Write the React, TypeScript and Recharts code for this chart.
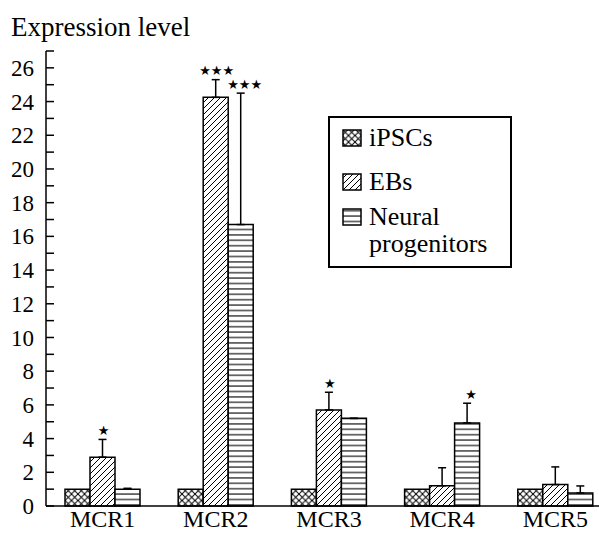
import React from "react";
import { BarChart, Bar, XAxis, YAxis, ErrorBar, LabelList, Legend } from "recharts";

const categories = ["MCR1", "MCR2", "MCR3", "MCR4", "MCR5"];
const ipscs = [1, 1, 1, 1, 1];
const ebs = [2.9, 24.25, 5.7, 1.2, 1.27];
const ebsErr = [1.05, 1.05, 1.05, 1.07, 1.05];
const neural = [1.0, 16.7, 5.2, 4.93, 0.77];
const neuralErr = [0.05, 7.8, 0, 1.17, 0.42];
const ebsStars = ["★", "★★★", "★", "", ""];
const neuralStars = ["", "★★★", "", "★", ""];
const yTicks = [0, 1, 2, 3, 4, 5, 6, 7, 8, 9, 10, 11, 12, 13, 14, 15, 16, 17, 18, 19, 20, 21, 22, 23, 24, 25, 26, 27];

// no serif face in the sandbox, this falls back to whatever is there
const FONT = "Liberation Serif, Tinos, Times New Roman, DejaVu Serif, serif";

const data = categories.map((name, i) => ({
  name,
  ipscs: ipscs[i],
  ebs: ebs[i],
  ebsErr: [0, ebsErr[i]],
  ebsStar: ebsStars[i],
  neural: neural[i],
  neuralErr: [0, neuralErr[i]],
  neuralStar: neuralStars[i],
}));

const series = [
  { key: "ipscs", name: "iPSCs", fill: "url(#crossHatch)" },
  { key: "ebs", name: "EBs", fill: "url(#diagHatch)" },
  { key: "neural", name: "Neural progenitors", fill: "url(#horizHatch)" },
];

function YTick(props: any) {
  const { x, y, payload } = props;
  const v = payload.value;
  return (
    <g>
      <line x1={x} x2={x + 8} y1={y} y2={y} stroke="#000" strokeWidth={1.5} />
      {v % 2 === 0 && v <= 26 && (
        <text x={x - 12} y={y} dy="0.35em" textAnchor="end" style={{ fontFamily: FONT }} fontSize={23} fill="#000">
          {v}
        </text>
      )}
    </g>
  );
}

function starLabel(values: number[], errs: number[], shift: number) {
  return (props: any) => {
    const { x, y, width, height, value, index } = props;
    if (!value) return null;
    const perUnit = Number(height) / values[index];
    const capY = Number(y) - errs[index] * perUnit;
    return (
      <text
        x={Number(x) + Number(width) / 2 + shift}
        y={capY - 9}
        dominantBaseline="central"
        textAnchor="middle"
        style={{ fontFamily: "DejaVu Sans, sans-serif" }}
        fontSize={13}
        fill="#000"
      >
        {value}
      </text>
    );
  };
}

function Swatch({ fill }: { fill: string }) {
  return (
    <svg width={20} height={18} style={{ display: "block" }}>
      <rect x={1} y={1} width={18} height={16} fill={fill} stroke="#000" strokeWidth={1.5} />
    </svg>
  );
}

function LegendBox() {
  return (
    <div
      style={{
        border: "2px solid #000",
        width: 184,
        height: 152,
        boxSizing: "border-box",
        fontFamily: FONT,
        fontSize: 26,
        color: "#000",
        background: "#fff",
        position: "relative",
      }}
    >
      <div style={{ position: "absolute", left: 12, top: 6, display: "flex", alignItems: "center" }}>
        <Swatch fill={series[0].fill} />
        <span style={{ marginLeft: 7, lineHeight: "28px" }}>iPSCs</span>
      </div>
      <div style={{ position: "absolute", left: 12, top: 50, display: "flex", alignItems: "center" }}>
        <Swatch fill={series[1].fill} />
        <span style={{ marginLeft: 7, lineHeight: "28px" }}>EBs</span>
      </div>
      <div style={{ position: "absolute", left: 12, top: 85, display: "flex", alignItems: "flex-start" }}>
        <div style={{ marginTop: 5 }}>
          <Swatch fill={series[2].fill} />
        </div>
        <span style={{ marginLeft: 7, lineHeight: "27px" }}>
          Neural
          <br />
          progenitors
        </span>
      </div>
    </div>
  );
}

export default function App() {
  return (
    <div style={{ position: "fixed", left: 0, top: 0, width: 599, height: 535, overflow: "hidden", background: "#fff" }}>
      <svg width={0} height={0} style={{ position: "absolute" }}>
        <defs>
          <pattern id="crossHatch" patternUnits="userSpaceOnUse" width={6.5} height={6.5}>
            <rect width={6.5} height={6.5} fill="#fff" />
            <path d="M0,0 L6.5,6.5 M6.5,0 L0,6.5" stroke="#000" strokeWidth={1} />
          </pattern>
          <pattern id="diagHatch" patternUnits="userSpaceOnUse" width={6} height={6}>
            <rect width={6} height={6} fill="#fff" />
            <path d="M-1,1 L1,-1 M0,6 L6,0 M5,7 L7,5" stroke="#000" strokeWidth={1} />
          </pattern>
          <pattern id="horizHatch" patternUnits="userSpaceOnUse" width={6} height={5.4}>
            <rect width={6} height={5.4} fill="#fff" />
            <line x1={0} x2={6} y1={2.7} y2={2.7} stroke="#000" strokeWidth={1.1} />
          </pattern>
        </defs>
      </svg>
      <div style={{ position: "absolute", left: 11, top: 12, fontFamily: FONT, fontSize: 27, lineHeight: "30px", color: "#000" }}>
        Expression level
      </div>
      <BarChart
        width={620}
        height={535}
        data={data}
        margin={{ top: 51, right: 8, left: 0, bottom: 0 }}
        barSize={25}
        barGap={0}
      >
        <XAxis
          dataKey="name"
          tickLine={false}
          tickSize={0}
          tickMargin={4}
          height={29}
          axisLine={{ stroke: "#000", strokeWidth: 1.5 }}
          tick={{ fontSize: 24, fill: "#000", style: { fontFamily: FONT } }}
        />
        <YAxis
          width={46}
          domain={[0, 27]}
          ticks={yTicks}
          interval={0}
          tickLine={false}
          tickSize={0}
          tickMargin={0}
          axisLine={{ stroke: "#000", strokeWidth: 1.5 }}
          tick={<YTick />}
        />
        <Legend
          layout="vertical"
          align="center"
          verticalAlign="middle"
          content={() => <LegendBox />}
          wrapperStyle={{ position: "absolute", left: 328, top: 116, width: 184, height: 152 }}
        />
        <Bar dataKey="ipscs" name="iPSCs" fill={series[0].fill} stroke="#000" strokeWidth={1.5} isAnimationActive={false} />
        <Bar dataKey="ebs" name="EBs" fill={series[1].fill} stroke="#000" strokeWidth={1.5} isAnimationActive={false}>
          <ErrorBar dataKey="ebsErr" direction="y" width={4} stroke="#000" strokeWidth={1.5} isAnimationActive={false} />
          <LabelList dataKey="ebsStar" content={starLabel(ebs, ebsErr, 1)} />
        </Bar>
        <Bar dataKey="neural" name="Neural progenitors" fill={series[2].fill} stroke="#000" strokeWidth={1.5} isAnimationActive={false}>
          <ErrorBar dataKey="neuralErr" direction="y" width={4} stroke="#000" strokeWidth={1.5} isAnimationActive={false} />
          <LabelList dataKey="neuralStar" content={starLabel(neural, neuralErr, 4)} />
        </Bar>
      </BarChart>
    </div>
  );
}
